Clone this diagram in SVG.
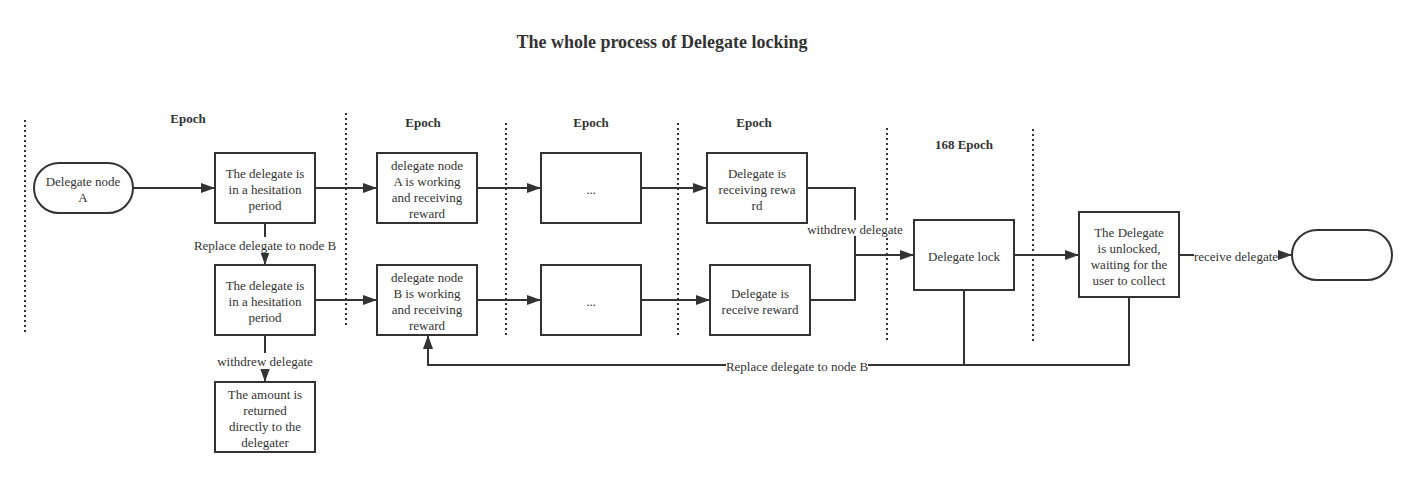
<svg xmlns="http://www.w3.org/2000/svg" width="1417" height="477" viewBox="0 0 1417 477">
<defs>
<marker id="arr" viewBox="0 0 14 10" refX="14" refY="5" markerWidth="14" markerHeight="10" markerUnits="userSpaceOnUse" orient="auto">
<path d="M0,0 L14,5 L0,10 Z" fill="#333"/>
</marker>
</defs>
<style>
text{font-family:"Liberation Serif","Times New Roman",serif;font-size:13px;fill:#333;text-anchor:middle}
.title{font-size:18px;font-weight:bold}
.ep{font-weight:bold}
.box{fill:#fff;stroke:#333;stroke-width:2}
.sep{stroke:#333;stroke-width:2;stroke-dasharray:2 3;fill:none}
.c{fill:none;stroke:#333;stroke-width:2}
.a{marker-end:url(#arr)}
.lbl{fill:#fff;stroke:none}
</style>
<rect width="1417" height="477" fill="#fff"/>
<text class="title" x="662" y="48">The whole process of Delegate locking</text>
<g id="separators">
<line class="sep" x1="25" y1="120" x2="25" y2="333"/>
<line class="sep" x1="346" y1="113" x2="346" y2="326"/>
<line class="sep" x1="506" y1="123" x2="506" y2="336"/>
<line class="sep" x1="678" y1="123" x2="678" y2="336"/>
<line class="sep" x1="887" y1="128" x2="887" y2="341"/>
<line class="sep" x1="1033" y1="129" x2="1033" y2="342"/>
</g>
<g id="epochs">
<text class="ep" x="188" y="123">Epoch</text>
<text class="ep" x="423" y="127">Epoch</text>
<text class="ep" x="591" y="127">Epoch</text>
<text class="ep" x="754" y="127">Epoch</text>
<text class="ep" x="964" y="149">168 Epoch</text>
</g>
<g id="connectors">
<line class="c a" x1="133" y1="188" x2="215" y2="188"/>
<line class="c a" x1="315" y1="188" x2="377" y2="188"/>
<line class="c a" x1="477" y1="188" x2="541" y2="188"/>
<line class="c a" x1="641" y1="188" x2="707" y2="188"/>
<line class="c a" x1="265" y1="223" x2="265" y2="265"/>
<line class="c a" x1="315" y1="300" x2="377" y2="300"/>
<line class="c a" x1="477" y1="300" x2="541" y2="300"/>
<line class="c a" x1="641" y1="300" x2="710" y2="300"/>
<line class="c a" x1="265" y1="335" x2="265" y2="382"/>
<polyline class="c a" points="807,188 855,188 855,255 914,255"/>
<polyline class="c" points="810,300 855,300 855,255"/>
<line class="c a" x1="1014" y1="255" x2="1079" y2="255"/>
<line class="c a" x1="1179" y1="255" x2="1292" y2="255"/>
<polyline class="c a" points="1129,297 1129,365 428,365 428,335"/>
<line class="c" x1="964" y1="290" x2="964" y2="365"/>
<rect class="lbl" x="194" y="237" width="142" height="16"/>
<text x="265" y="250">Replace delegate to node B</text>
<rect class="lbl" x="218" y="353" width="94" height="16"/>
<text x="265" y="366">withdrew delegate</text>
<rect class="lbl" x="807" y="220" width="96" height="16"/>
<text x="855" y="234">withdrew delegate</text>
<rect class="lbl" x="1194" y="248" width="84" height="16"/>
<text x="1236" y="261">receive delegate</text>
<rect class="lbl" x="726" y="357" width="142" height="16"/>
<text x="797" y="371">Replace delegate to node B</text>
</g>
<g id="nodeA">
<rect class="box" x="34" y="163" width="99" height="50" rx="25"/>
<text x="83" y="186">Delegate node</text>
<text x="83" y="202">A</text>
</g>
<g id="hes1">
<rect class="box" x="215" y="153" width="100" height="70"/>
<text x="265" y="178">The delegate is</text>
<text x="265" y="194">in a hesitation</text>
<text x="265" y="210">period</text>
</g>
<g id="hes2">
<rect class="box" x="215" y="265" width="100" height="70"/>
<text x="265" y="290">The delegate is</text>
<text x="265" y="306">in a hesitation</text>
<text x="265" y="322">period</text>
</g>
<g id="returned">
<rect class="box" x="215" y="382" width="100" height="70"/>
<text x="265" y="399">The amount is</text>
<text x="265" y="415">returned</text>
<text x="265" y="431">directly to the</text>
<text x="265" y="447">delegater</text>
</g>
<g id="workA">
<rect class="box" x="377" y="153" width="100" height="70"/>
<text x="427" y="170">delegate node</text>
<text x="427" y="186">A is working</text>
<text x="427" y="202">and receiving</text>
<text x="427" y="218">reward</text>
</g>
<g id="workB">
<rect class="box" x="377" y="265" width="100" height="70"/>
<text x="427" y="282">delegate node</text>
<text x="427" y="298">B is working</text>
<text x="427" y="314">and receiving</text>
<text x="427" y="330">reward</text>
</g>
<g id="dots1">
<rect class="box" x="541" y="153" width="100" height="70"/>
<text x="591" y="194">...</text>
</g>
<g id="dots2">
<rect class="box" x="541" y="265" width="100" height="70"/>
<text x="591" y="306">...</text>
</g>
<g id="recvA">
<rect class="box" x="707" y="153" width="100" height="70"/>
<text x="757" y="178">Delegate is</text>
<text x="757" y="194">receiving rewa</text>
<text x="757" y="210">rd</text>
</g>
<g id="recvB">
<rect class="box" x="710" y="265" width="100" height="70"/>
<text x="760" y="298">Delegate is</text>
<text x="760" y="314">receive reward</text>
</g>
<g id="lock">
<rect class="box" x="914" y="220" width="100" height="70"/>
<text x="964" y="261">Delegate lock</text>
</g>
<g id="unlocked">
<rect class="box" x="1079" y="212" width="100" height="85"/>
<text x="1129" y="237">The Delegate</text>
<text x="1129" y="253">is unlocked,</text>
<text x="1129" y="269">waiting for the</text>
<text x="1129" y="285">user to collect</text>
</g>
<g id="end">
<rect class="box" x="1292" y="230" width="100" height="50" rx="25"/>
</g>
</svg>
